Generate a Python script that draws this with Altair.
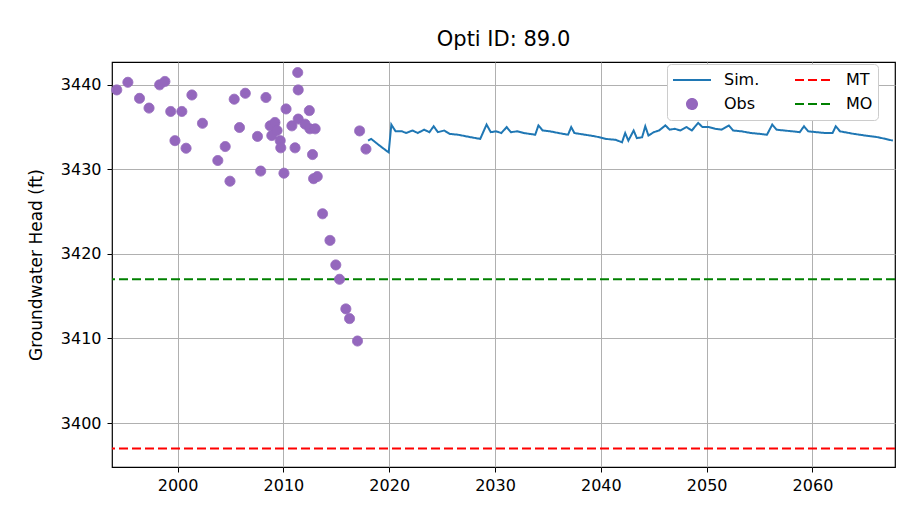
import altair as alt
import pandas as pd

# ---------------- data ----------------
obs_year = [1994.25, 1995.3, 1996.4, 1997.3, 1998.3, 1998.8, 1999.35, 2000.4, 2001.35, 1999.75,
            2000.8, 2002.35, 2003.8, 2004.5, 2004.95, 2005.35, 2005.85, 2006.4, 2007.55, 2007.85,
            2008.35, 2008.75, 2009.2, 2008.9, 2009.4, 2009.7, 2009.75, 2010.05, 2010.25, 2010.8,
            2011.1, 2011.35, 2011.4, 2011.4, 2012.05, 2012.45, 2012.5, 2013.0, 2012.75, 2012.85,
            2013.2, 2013.7, 2014.4, 2014.95, 2015.3, 2015.9, 2016.25, 2017.0, 2017.2, 2017.8]
obs_head = [3439.4, 3440.3, 3438.4, 3437.25, 3440.0, 3440.4, 3436.85, 3436.85, 3438.8, 3433.4,
            3432.5, 3435.45, 3431.05, 3432.7, 3428.6, 3438.3, 3434.95, 3439.0, 3433.9, 3429.8,
            3438.5, 3435.15, 3435.55, 3434.0, 3434.6, 3433.4, 3432.55, 3429.55, 3437.15, 3435.15,
            3432.55, 3441.45, 3439.4, 3435.95, 3435.35, 3436.95, 3434.8, 3434.8, 3431.75, 3428.9,
            3429.15, 3424.75, 3421.6, 3418.7, 3417.0, 3413.5, 3412.35, 3409.7, 3434.55, 3432.4]

sim_year = [2018.0, 2018.3, 2019.0, 2019.95, 2020.2, 2020.6, 2021.2, 2021.6, 2022.2, 2022.7,
            2023.3, 2023.8, 2024.2, 2024.6, 2025.2, 2025.7, 2026.5, 2027.3, 2028.6, 2029.2,
            2029.6, 2030.1, 2030.6, 2031.1, 2031.5, 2032.1, 2032.7, 2033.8, 2034.1, 2034.5,
            2035.2, 2036.0, 2036.9, 2037.2, 2037.5, 2038.5, 2039.5, 2040.5, 2041.4, 2042.0,
            2042.3, 2042.6, 2043.1, 2043.4, 2043.9, 2044.2, 2044.5, 2045.0, 2045.5, 2046.1,
            2046.5, 2047.0, 2047.5, 2048.1, 2048.6, 2049.2, 2049.6, 2050.2, 2050.8, 2051.4,
            2052.1, 2052.5, 2053.3, 2054.2, 2055.0, 2055.7, 2056.2, 2056.6, 2057.3, 2058.1,
            2058.8, 2059.2, 2059.6, 2060.4, 2061.2, 2061.9, 2062.2, 2062.6, 2063.9, 2065.0,
            2066.2, 2067.6]
sim_head = [3433.4, 3433.6, 3432.9, 3432.0, 3435.3, 3434.5, 3434.5, 3434.3, 3434.6, 3434.3,
            3434.7, 3434.4, 3435.1, 3434.4, 3434.6, 3434.2, 3434.1, 3433.9, 3433.6, 3435.3,
            3434.4, 3434.5, 3434.3, 3435.0, 3434.4, 3434.5, 3434.3, 3434.1, 3435.2, 3434.6,
            3434.5, 3434.3, 3434.1, 3435.0, 3434.3, 3434.1, 3433.9, 3433.6, 3433.5, 3433.2,
            3434.3, 3433.4, 3434.6, 3433.7, 3433.8, 3435.1, 3434.0, 3434.4, 3434.6, 3435.2,
            3434.7, 3434.8, 3434.6, 3435.0, 3434.6, 3435.5, 3435.0, 3435.0, 3434.8, 3434.7,
            3435.2, 3434.6, 3434.5, 3434.3, 3434.2, 3434.1, 3435.3, 3434.7, 3434.6, 3434.5,
            3434.4, 3435.1, 3434.5, 3434.4, 3434.3, 3434.3, 3435.1, 3434.5, 3434.2, 3434.0,
            3433.8, 3433.4]

threshold_names = ["MT", "MO"]
threshold_levels = [3397.0, 3417.0]

x_ticks = [2000, 2010, 2020, 2030, 2040, 2050, 2060]
y_ticks = [3400, 3410, 3420, 3430, 3440]

# legend fills column by column: (Sim., Obs) | (MT, MO)
series_domain = ["Sim.", "Obs", "MT", "MO"]
series_colors = ["#1f77b4", "#9467bd", "#ff0000", "#008000"]
series_shapes = ["stroke", "circle", "stroke", "stroke"]
series_dash = [[1, 0], [1, 0], [9, 4], [9, 4]]
series_sizes = [1444, 100, 1444, 1444]

obs_df = pd.DataFrame({"year": obs_year, "head": obs_head, "series": "Obs"})
sim_df = pd.DataFrame({"year": sim_year, "head": sim_head, "series": "Sim."})
thr_df = pd.DataFrame({"head": threshold_levels, "series": threshold_names})

FONT = "DejaVu Sans"

x_enc = alt.X("year:Q",
              scale=alt.Scale(domain=[1993.8, 2067.8], nice=False, zero=False),
              axis=alt.Axis(values=x_ticks, format="d", title=None))
y_enc = alt.Y("head:Q",
              scale=alt.Scale(domain=[3394.8, 3442.7], nice=False, zero=False),
              axis=alt.Axis(values=y_ticks, format="d", title="Groundwater Head (ft)"))

stroke_enc = alt.Stroke("series:N", title=None,
                        scale=alt.Scale(domain=series_domain, range=series_colors))
dash_enc = alt.StrokeDash("series:N", title=None,
                          scale=alt.Scale(domain=series_domain, range=series_dash))

sim_line = alt.Chart(sim_df).mark_line(strokeWidth=2).encode(
    x=x_enc, y=y_enc, stroke=stroke_enc, strokeDash=dash_enc
)

thr_rules = alt.Chart(thr_df).mark_rule(strokeWidth=2).encode(
    y=alt.Y("head:Q"), stroke=stroke_enc, strokeDash=dash_enc
)

obs_pts = alt.Chart(obs_df).mark_point(filled=True, opacity=1, strokeWidth=1).encode(
    x=x_enc, y=y_enc,
    fill=alt.Fill("series:N", title=None,
                  scale=alt.Scale(domain=series_domain, range=series_colors)),
    stroke=stroke_enc,
    strokeDash=dash_enc,
    shape=alt.Shape("series:N", title=None,
                    scale=alt.Scale(domain=series_domain, range=series_shapes)),
    size=alt.Size("series:N", title=None,
                  scale=alt.Scale(type="ordinal", domain=series_domain, range=series_sizes)),
)

chart = alt.layer(thr_rules, sim_line, obs_pts).properties(
    width=783, height=405,
    padding={"left": 104, "top": 54, "right": 17, "bottom": 40},
    autosize=alt.AutoSizeParams(type="none"),
    title=alt.Title("Opti ID: 89.0", font=FONT, fontSize=21, fontWeight="normal",
                    color="black", offset=12),
).configure_view(
    stroke="black", strokeWidth=1.2
).configure_axis(
    labelFont=FONT, labelFontSize=16, labelColor="black",
    titleFont=FONT, titleFontSize=17, titleFontWeight="normal", titleColor="black",
    tickColor="black", tickSize=5, domain=False,
    gridColor="#b0b0b0", gridWidth=1, gridOpacity=1,
).configure_axisX(
    labelPadding=5
).configure_axisY(
    labelPadding=6, titlePadding=15
).configure_legend(
    orient="none", legendX=555, legendY=2, columns=2,
    labelFont=FONT, labelFontSize=16, labelColor="black",
    fillColor="white", strokeColor="#cccccc", cornerRadius=4, padding=5,
    columnPadding=34, rowPadding=2, labelOffset=12, clipHeight=22,
    symbolStrokeWidth=2, symbolOpacity=1,
)

chart.save("out.html", embed_options={"renderer": "svg", "actions": False})
